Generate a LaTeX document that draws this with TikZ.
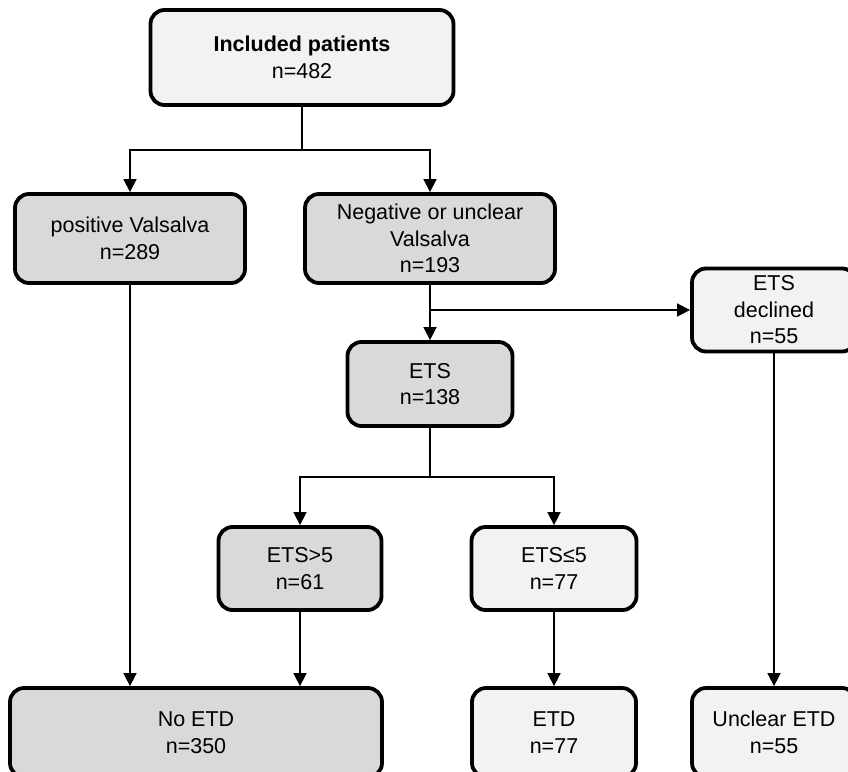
\documentclass[tikz,border=0pt]{standalone}
\usepackage{fontspec}
\setmainfont{Liberation Sans}
\usetikzlibrary{arrows.meta}
\definecolor{dk}{HTML}{D9D9D9}
\definecolor{lt}{HTML}{F2F2F2}
\tikzset{
  box/.style={draw=black, line width=3.8pt, rounded corners=14pt, align=center,
    font=\fontsize{21.5}{26.5}\selectfont, inner sep=0pt},
  dbox/.style={box, fill=dk},
  lbox/.style={box, fill=lt},
  arr/.style={line width=1.6pt, -{Triangle[length=13pt,width=13pt]}},
  ln/.style={line width=1.6pt}
}
\begin{document}
\begin{tikzpicture}[x=1pt,y=-1pt]
\useasboundingbox (0,0) rectangle (848,771);
\clip (0,0) rectangle (848,771);
\node[lbox, minimum width=303pt, minimum height=95pt] (top) at (302,57.5)
  {{\bfseries Included patients}\\n=482};
\node[dbox, minimum width=230pt, minimum height=89pt] (pos) at (130,238.5)
  {positive Valsalva\\n=289};
\node[dbox, minimum width=250pt, minimum height=89pt] (neg) at (430,238.5)
  {Negative or unclear\\Valsalva\\n=193};
\node[lbox, minimum width=164pt, minimum height=83pt] (decl) at (774,310)
  {ETS\\declined\\n=55};
\node[dbox, minimum width=165pt, minimum height=84pt] (ets) at (430,384)
  {ETS\\n=138};
\node[dbox, minimum width=163pt, minimum height=83pt] (gt) at (300,568.5)
  {ETS>5\\n=61};
\node[lbox, minimum width=165pt, minimum height=83pt] (le) at (554,568.5)
  {ETS≤5\\n=77};
\node[dbox, minimum width=372pt, minimum height=89pt] (no) at (196,732.5)
  {No ETD\\n=350};
\node[lbox, minimum width=164pt, minimum height=89pt] (etd) at (554,732.5)
  {ETD\\n=77};
\node[lbox, minimum width=164pt, minimum height=89pt] (unc) at (774,732.5)
  {Unclear ETD\\n=55};
\coordinate (s1) at (302,150);
\coordinate (s2) at (430,310);
\coordinate (s3) at (430,477);
\draw[ln] (top.south) -- (s1);
\draw[arr] (s1) -| (pos.north);
\draw[arr] (s1) -| (neg.north);
\draw[arr] (neg.south) -- (ets.north);
\draw[arr] (s2) -- (decl.west);
\draw[ln] (ets.south) -- (s3);
\draw[arr] (s3) -| (gt.north);
\draw[arr] (s3) -| (le.north);
\draw[arr] (pos.south) -- (pos.south |- no.north);
\draw[arr] (gt.south) -- (gt.south |- no.north);
\draw[arr] (le.south) -- (etd.north);
\draw[arr] (decl.south) -- (unc.north);
\end{tikzpicture}
\end{document}
